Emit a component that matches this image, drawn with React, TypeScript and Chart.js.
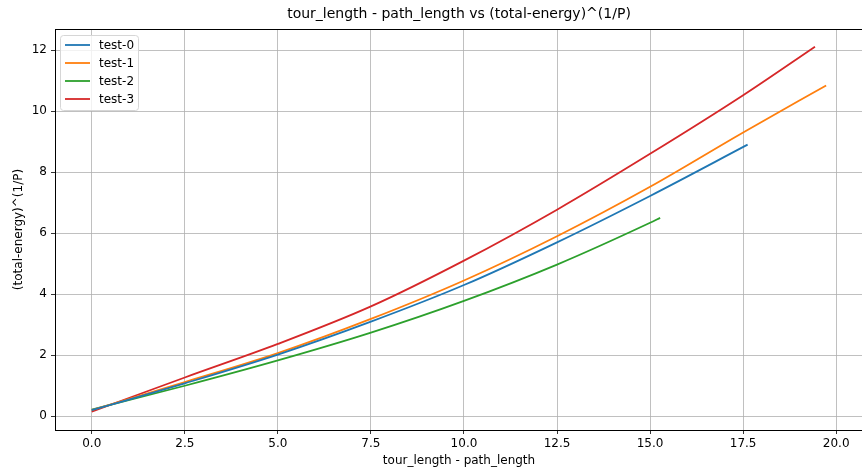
import React, { useEffect, useRef } from "react";
import { Chart, registerables } from "chart.js";

Chart.register(...registerables);

const TITLE = "tour_length - path_length vs (total-energy)^(1/P)";
const X_TITLE = "tour_length - path_length";
const Y_TITLE = "(total-energy)^(1/P)";

const SERIES_NAMES = ["test-0", "test-1", "test-2", "test-3"];
const COLORS = ["#1f77b4", "#ff7f0e", "#2ca02c", "#d62728"];

const X0 = [0, 2.5, 5, 7.5, 10, 12.5, 15, 17.62];
const Y0 = [0.2, 1.08, 2.02, 3.1, 4.3, 5.7, 7.22, 8.9];

const X1 = [0, 2.5, 5, 7.5, 10, 12.5, 15, 17.5, 19.73];
const Y1 = [0.2, 1.12, 2.07, 3.19, 4.45, 5.9, 7.52, 9.3, 10.84];

const X2 = [0, 2.5, 5, 7.5, 10, 12.5, 15, 15.27];
const Y2 = [0.22, 1.0, 1.83, 2.74, 3.78, 4.97, 6.34, 6.5];

const X3 = [0, 2.5, 5, 7.5, 10, 12.5, 15, 17.5, 19.43];
const Y3 = [0.15, 1.27, 2.37, 3.6, 5.1, 6.77, 8.6, 10.52, 12.11];

const X_TICKS = [0, 2.5, 5, 7.5, 10, 12.5, 15, 17.5, 20];
const Y_TICKS = [0, 2, 4, 6, 8, 10, 12];

const X_MIN = -0.987;
const X_MAX = 20.72;
const Y_MIN = -0.45;
const Y_MAX = 12.69;

const FONT = '"DejaVu Sans", sans-serif';

const overlay = {
  id: "overlay",
  afterDatasetsDraw(chart: any) {
    const ctx = chart.ctx;
    const a = chart.chartArea;
    ctx.save();
    ctx.strokeStyle = "#000";
    ctx.lineWidth = 1;
    ctx.strokeRect(Math.round(a.left) + 0.5, Math.round(a.top) + 0.5, Math.round(a.right - a.left), Math.round(a.bottom - a.top));
    ctx.restore();
  },
  afterDraw(chart: any) {
    const ctx = chart.ctx;
    const a = chart.chartArea;
    ctx.save();
    ctx.fillStyle = "#000";
    ctx.textAlign = "center";
    ctx.textBaseline = "middle";
    ctx.font = `14px ${FONT}`;
    ctx.fillText(TITLE, (a.left + a.right) / 2, 14);
    ctx.font = `12px ${FONT}`;
    ctx.fillText(X_TITLE, (a.left + a.right) / 2, 461);
    ctx.save();
    ctx.translate(19, (a.top + a.bottom) / 2);
    ctx.rotate(-Math.PI / 2);
    ctx.fillText(Y_TITLE, 0, 0);
    ctx.restore();

    // legend
    const bx = 60.5, by = 35.5, bw = 78, bh = 75, r = 3;
    ctx.beginPath();
    ctx.moveTo(bx + r, by);
    ctx.lineTo(bx + bw - r, by);
    ctx.quadraticCurveTo(bx + bw, by, bx + bw, by + r);
    ctx.lineTo(bx + bw, by + bh - r);
    ctx.quadraticCurveTo(bx + bw, by + bh, bx + bw - r, by + bh);
    ctx.lineTo(bx + r, by + bh);
    ctx.quadraticCurveTo(bx, by + bh, bx, by + bh - r);
    ctx.lineTo(bx, by + r);
    ctx.quadraticCurveTo(bx, by, bx + r, by);
    ctx.closePath();
    ctx.fillStyle = "rgba(255,255,255,0.8)";
    ctx.fill();
    ctx.strokeStyle = "#d6d6d6";
    ctx.lineWidth = 1;
    ctx.stroke();
    ctx.textAlign = "left";
    ctx.font = `12px ${FONT}`;
    SERIES_NAMES.forEach((name, i) => {
      const y = 45 + i * 18;
      ctx.strokeStyle = COLORS[i];
      ctx.lineWidth = 1.8;
      ctx.beginPath();
      ctx.moveTo(65, y);
      ctx.lineTo(90, y);
      ctx.stroke();
      ctx.fillStyle = "#000";
      ctx.fillText(name, 99, y + 0.5);
    });
    ctx.restore();
  },
};

function pts(xs: number[], ys: number[]) {
  return xs.map((x, i) => ({ x, y: ys[i] }));
}

export default function App() {
  const ref = useRef<HTMLCanvasElement | null>(null);
  useEffect(() => {
    if (!ref.current) return;
    const all = [
      [X0, Y0],
      [X1, Y1],
      [X2, Y2],
      [X3, Y3],
    ];
    const chart = new Chart(ref.current, {
      type: "line",
      data: {
        datasets: all.map(([xs, ys], i) => ({
          label: SERIES_NAMES[i],
          data: pts(xs, ys),
          borderColor: COLORS[i],
          backgroundColor: COLORS[i],
          borderWidth: 1.8,
          pointRadius: 0,
          cubicInterpolationMode: "monotone" as const,
          fill: false,
        })),
      },
      options: {
        animation: false,
        responsive: false,
        devicePixelRatio: 1,
        layout: { padding: { top: 29, right: 3, bottom: 0, left: 0 } },
        plugins: { legend: { display: false }, title: { display: false }, tooltip: { enabled: false } },
        scales: {
          x: {
            type: "linear",
            min: X_MIN,
            max: X_MAX,
            afterBuildTicks: (s: any) => {
              s.ticks = X_TICKS.map((v) => ({ value: v }));
            },
            afterFit: (s: any) => {
              s.height = 40;
            },
            grid: { color: "#b0b0b0", lineWidth: 0.8, tickLength: 4, tickColor: "#000", drawTicks: true },
            border: { display: false },
            ticks: {
              color: "#000",
              font: { family: FONT, size: 12 },
              padding: 3,
              maxRotation: 0,
              autoSkip: false,
              callback: (v: any) => Number(v).toFixed(1),
            },
          },
          y: {
            type: "linear",
            min: Y_MIN,
            max: Y_MAX,
            afterBuildTicks: (s: any) => {
              s.ticks = Y_TICKS.map((v) => ({ value: v }));
            },
            afterFit: (s: any) => {
              s.width = 55;
            },
            grid: { color: "#b0b0b0", lineWidth: 0.8, tickLength: 4, tickColor: "#000", drawTicks: true },
            border: { display: false },
            ticks: {
              color: "#000",
              font: { family: FONT, size: 12 },
              padding: 4,
              autoSkip: false,
              callback: (v: any) => String(v),
            },
          },
        },
      },
      plugins: [overlay],
    });
    return () => chart.destroy();
  }, []);
  return (
    <div style={{ position: "fixed", left: 0, top: 0, width: 862, height: 470, overflow: "hidden", background: "#fff" }}>
      <canvas ref={ref} width={866} height={470} style={{ width: 866, height: 470, display: "block" }} />
    </div>
  );
}
